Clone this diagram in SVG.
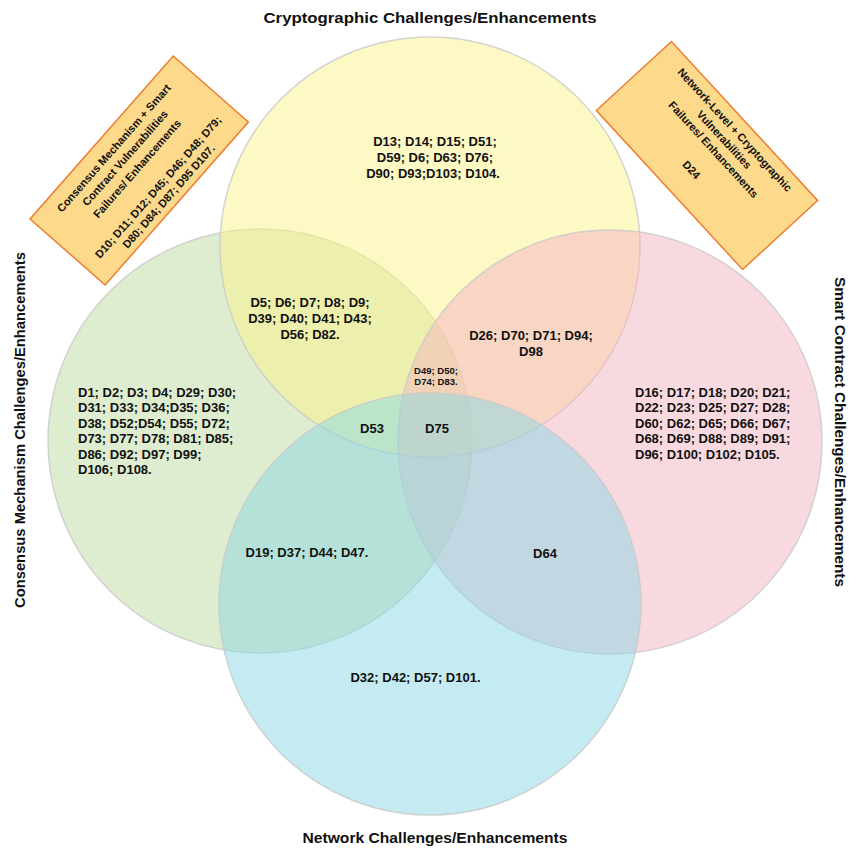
<svg xmlns="http://www.w3.org/2000/svg" width="850" height="850" viewBox="0 0 850 850">
  <style>
    .set { stroke: #c9c9c9; stroke-width: 1.5; stroke-opacity: 0.8; fill-opacity: 0.5; }
    .title { font-family: "Liberation Sans", Arial, sans-serif; font-weight: bold; font-size: 15px; fill: #111; text-anchor: middle; }
    .lbl { font-family: "Liberation Sans", Arial, sans-serif; font-weight: bold; font-size: 13px; fill: #111; }
    .mid { text-anchor: middle; }
    .small { font-size: 9.5px; }
    .note-box { fill: #fdd98c; stroke: #ed7d31; stroke-width: 1.5; }
    .note { font-family: "Liberation Sans", Arial, sans-serif; font-weight: bold; font-size: 11px; fill: #111; text-anchor: middle; }
  </style>
  <rect width="850" height="850" fill="#ffffff"/>

  <!-- the four sets -->
  <g id="consensus">
    <circle class="set" cx="260" cy="441" r="212" fill="#bdd99f"/>
  </g>
  <g id="cryptographic">
    <circle class="set" cx="430" cy="247" r="210" fill="#fbf389"/>
  </g>
  <g id="smart-contract">
    <circle class="set" cx="610" cy="442" r="212" fill="#f3b3c1"/>
  </g>
  <g id="network">
    <circle class="set" cx="430" cy="604" r="211" fill="#8ad8e3" fill-opacity="0.45"/>
  </g>

  <!-- set titles -->
  <text class="title" x="430" y="23" textLength="333" lengthAdjust="spacingAndGlyphs">Cryptographic Challenges/Enhancements</text>
  <text class="title" x="435" y="843" textLength="265" lengthAdjust="spacingAndGlyphs">Network Challenges/Enhancements</text>
  <text class="title" transform="translate(25 430) rotate(-90)" textLength="356" lengthAdjust="spacingAndGlyphs">Consensus Mechanism Challenges/Enhancements</text>
  <text class="title" style="font-size:14px" transform="translate(835 432) rotate(90)" textLength="310" lengthAdjust="spacingAndGlyphs">Smart Contract Challenges/Enhancements</text>

  <!-- region contents -->
  <g id="region-crypto">
    <text class="lbl mid" x="435" y="146">D13; D14; D15; D51;</text>
    <text class="lbl mid" x="435" y="162">D59; D6; D63; D76;</text>
    <text class="lbl mid" x="433" y="178">D90; D93;D103; D104.</text>
  </g>
  <g id="region-consensus-crypto">
    <text class="lbl mid" x="310" y="307">D5; D6; D7; D8; D9;</text>
    <text class="lbl mid" x="310" y="323">D39; D40; D41; D43;</text>
    <text class="lbl mid" x="310" y="339">D56; D82.</text>
  </g>
  <g id="region-crypto-smart">
    <text class="lbl mid" x="531" y="340">D26; D70; D71; D94;</text>
    <text class="lbl mid" x="531" y="356">D98</text>
  </g>
  <g id="region-core-three">
    <text class="lbl mid small" x="436" y="373.5">D49; D50;</text>
    <text class="lbl mid small" x="436" y="384.5">D74; D83.</text>
  </g>
  <g id="region-consensus">
    <text class="lbl" x="78" y="396.5">D1; D2; D3; D4; D29; D30;</text>
    <text class="lbl" x="78" y="412">D31; D33; D34;D35; D36;</text>
    <text class="lbl" x="78" y="427.5">D38;  D52;D54; D55; D72;</text>
    <text class="lbl" x="78" y="443">D73; D77; D78; D81; D85;</text>
    <text class="lbl" x="78" y="458.5">D86; D92; D97; D99;</text>
    <text class="lbl" x="78" y="474">D106; D108.</text>
  </g>
  <g id="region-smart">
    <text class="lbl" x="635" y="396.5">D16; D17; D18; D20; D21;</text>
    <text class="lbl" x="635" y="412">D22; D23; D25; D27; D28;</text>
    <text class="lbl" x="635" y="427.5">D60; D62; D65; D66; D67;</text>
    <text class="lbl" x="635" y="443">D68; D69; D88; D89; D91;</text>
    <text class="lbl" x="635" y="458.5">D96; D100; D102; D105.</text>
  </g>
  <g id="region-d53">
    <text class="lbl mid" x="372" y="432.5">D53</text>
  </g>
  <g id="region-d75">
    <text class="lbl mid" x="437" y="432.5">D75</text>
  </g>
  <g id="region-consensus-network">
    <text class="lbl mid" x="307" y="556.5">D19; D37; D44; D47.</text>
  </g>
  <g id="region-smart-network">
    <text class="lbl mid" x="545" y="557.5">D64</text>
  </g>
  <g id="region-network">
    <text class="lbl mid" x="415.5" y="681.5">D32; D42; D57; D101.</text>
  </g>

  <!-- callout: consensus + smart contract -->
  <g id="note-consensus-smart" transform="translate(139.2 170.5) rotate(-48.7)">
    <rect class="note-box" x="-108.5" y="-50" width="217" height="100"/>
    <text class="note" y="-30">Consensus  Mechanism  + Smart</text>
    <text class="note" y="-15">Contract  Vulnerabilities</text>
    <text class="note" y="1">Failures/ Enhancements</text>
    <text class="note" y="29">D10; D11; D12; D45; D46; D48; D79;</text>
    <text class="note" y="43">D80; D84; D87; D95 D107.</text>
  </g>

  <!-- callout: network + cryptographic -->
  <g id="note-network-crypto" transform="translate(707 155.5) rotate(47.4)">
    <rect class="note-box" x="-108" y="-51" width="216" height="102"/>
    <text class="note" y="-34">Network-Level  + Cryptographic</text>
    <text class="note" y="-19.5">Vulnerabilities</text>
    <text class="note" y="-5">Failures/ Enhancements</text>
    <text class="note" y="25">D24</text>
  </g>
</svg>
